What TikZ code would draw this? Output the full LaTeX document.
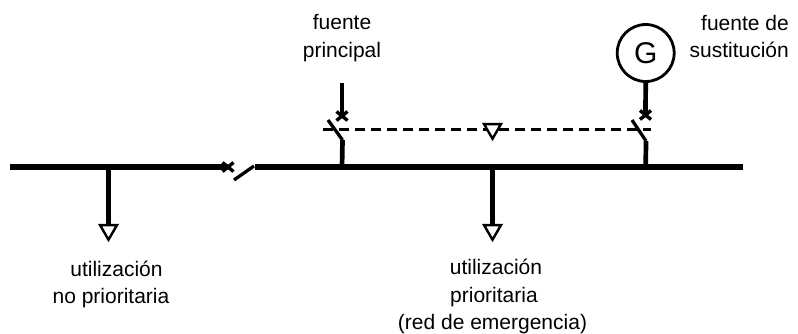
\documentclass[tikz,border=0pt]{standalone}
\usepackage{fontspec}
\setmainfont{Liberation Sans}
\usetikzlibrary{shapes.geometric}
\tikzset{
  bus/.style={line width=6.6pt},
  feeder/.style={line width=4.7pt},
  blade/.style={line width=3.3pt},
  link/.style={line width=3pt,dash pattern=on 10pt off 6pt},
  lbl/.style={align=center,font=\fontsize{21}{27.2}\selectfont,inner sep=0pt,text=black},
  load/.style={draw,fill=white,line width=2.4pt,regular polygon,regular polygon sides=3,shape border rotate=180,minimum size=19.5pt,inner sep=0pt},
  gen/.style={draw,circle,line width=2.8pt,minimum size=57pt,inner sep=0pt,font=\fontsize{30}{30}\selectfont},
  crossmark/.style={line width=3.4pt}
}
\newcommand{\xmark}[1]{\draw[crossmark] ([shift={(-5.5pt,-4.5pt)}]#1) -- ([shift={(5.5pt,4.5pt)}]#1) ([shift={(-5.5pt,4.5pt)}]#1) -- ([shift={(5.5pt,-4.5pt)}]#1);}
\begin{document}
\begin{tikzpicture}[x=1pt,y=-1pt]
\useasboundingbox (0,0) rectangle (798,333);
% bus
\coordinate (busL) at (10,167);
\coordinate (busBrk) at (228,167);
\coordinate (busR0) at (255,167);
\coordinate (busR) at (743,167);
\draw[bus] (busL) -- (busBrk);
\draw[bus] (busR0) -- (busR);
\coordinate (xb) at (228,167);
\xmark{xb}
\coordinate (bt) at (234,180);
\coordinate (bh) at (254,166);
\draw[blade] (bt) -- (bh);
% loads
\coordinate (tapL) at (108.5,167);
\coordinate (tapC) at (492.5,167);
\draw[feeder] (tapL) -- (108.5,226);
\draw[feeder] (tapC) -- (492.5,226);
\node[load] (loadL) at (108.5,230) {};
\node[load] (loadC) at (492.5,230) {};
% dashed link
\coordinate (linkL) at (323,129);
\coordinate (linkR) at (651,129);
\draw[link] (linkL) -- (linkR);
\node[load] (tri) at (492.5,129) {};
% main source
\coordinate (mTop) at (342,83);
\coordinate (mX) at (342,116);
\coordinate (mBt) at (328,120);
\coordinate (mPiv) at (342.5,140);
\coordinate (mBus) at (342,167);
\draw[feeder] (mTop) -- (mX);
\xmark{mX}
\draw[blade] (mBt) -- (mPiv);
\draw[feeder] (mPiv) -- (mBus);
% generator
\node[gen] (G) at (645.7,53) {G};
\coordinate (gX) at (645.5,115);
\coordinate (gBt) at (632,120);
\coordinate (gPiv) at (646,141);
\coordinate (gBus) at (645.7,167);
\draw[feeder] (G.south) -- (gX);
\xmark{gX}
\draw[blade] (gBt) -- (gPiv);
\draw[feeder] (gPiv) -- (gBus);
% labels
\node[lbl] (t1) at (342,38) {fuente\\principal};
\node[lbl,align=right,anchor=east] (t2) at (789,36.5) {fuente de\\sustitución};
\node[lbl] (t3) at (111,284.5) {\hspace*{11pt}utilización\\no prioritaria};
\node[lbl] (t4) at (492.5,296.5) {\hspace*{7pt}utilización\\\hspace*{3pt}prioritaria\\(red de emergencia)};
\end{tikzpicture}
\end{document}
